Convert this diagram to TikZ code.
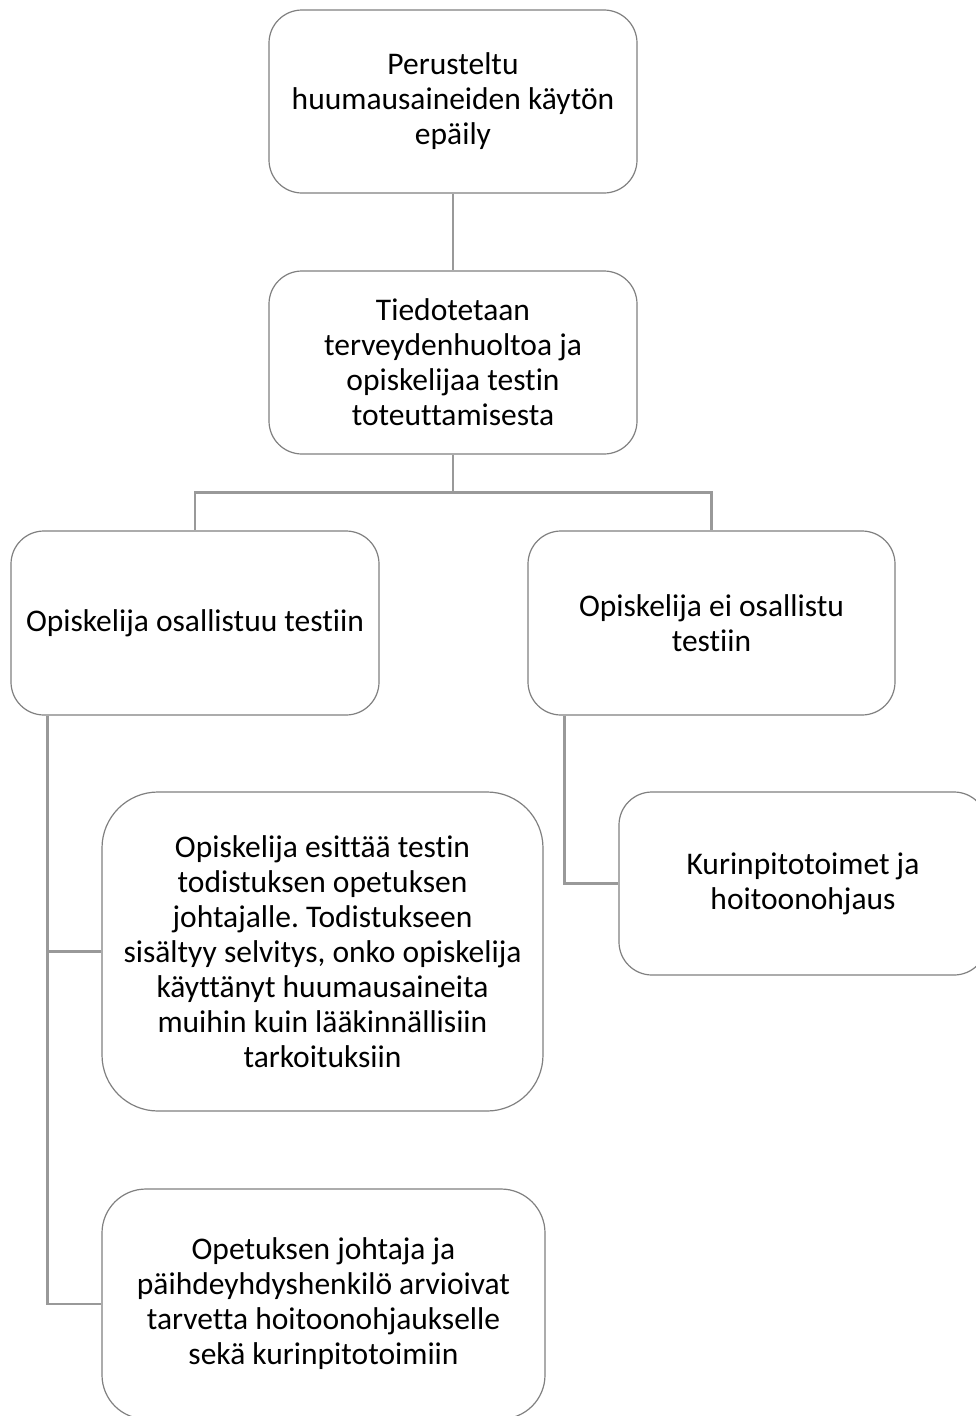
\documentclass[tikz,border=0pt]{standalone}
\usepackage{fontspec}
\setmainfont{Carlito}[Ligatures=CommonOff]
\usetikzlibrary{positioning,calc}
\frenchspacing

\begin{document}
\begin{tikzpicture}[x=1pt,y=-1pt,
  every node/.style={align=center,font=\fontsize{31.5}{35}\selectfont},
  box/.style={draw=black!50,line width=1.2pt,fill=white,rounded corners=33pt,
    minimum width=368pt,minimum height=183pt,inner sep=0pt},
  bigbox/.style={box,rounded corners=56pt},
  link/.style={draw=black!40,line width=2.6pt}
]
\useasboundingbox (0,0) rectangle (976,1416);
\clip (0,0) rectangle (976,1416);

% the levels of the chart
\node[box] (epaily) at (453,101.5) {Perusteltu\\huumausaineiden käytön\\epäily};
\node[box] (tiedote) at (453,362.5) {Tiedotetaan\\terveydenhuoltoa ja\\opiskelijaa testin\\toteuttamisesta};
\node[box,minimum height=184pt] (osall) at (195,623) {Opiskelija osallistuu testiin};
\node[box,minimum width=367pt,minimum height=184pt] (eiosall) at (711.5,623) {Opiskelija ei osallistu\\testiin};

% the children below
\node[bigbox,minimum width=441pt,minimum height=319pt] (todistus) at (322.5,951.5)
  {Opiskelija esittää testin\\todistuksen opetuksen\\johtajalle. Todistukseen\\sisältyy selvitys, onko opiskelija\\käyttänyt huumausaineita\\muihin kuin lääkinnällisiin\\tarkoituksiin};
\node[bigbox,rounded corners=44pt,minimum width=443pt,minimum height=230pt] (arvio) at (323.5,1304)
  {Opetuksen johtaja ja\\päihdeyhdyshenkilö arvioivat\\tarvetta hoitoonohjaukselle\\sekä kurinpitotoimiin};
\node[box] (kuri) at (803,883.5) {Kurinpitotoimet ja\\hoitoonohjaus};

% the connectors
\draw[link] (epaily.south) -- (tiedote.north);
\draw[link] (tiedote.south) -- ++(0,38) -| (osall.north);
\draw[link] (tiedote.south) -- ++(0,38) -| (eiosall.north);
\draw[link] ($(osall.south west)+(37,0)$) |- (todistus.west);
\draw[link] ($(osall.south west)+(37,0)$) |- (arvio.west);
\draw[link] ($(eiosall.south west)+(37,0)$) |- (kuri.west);

\end{tikzpicture}
\end{document}
